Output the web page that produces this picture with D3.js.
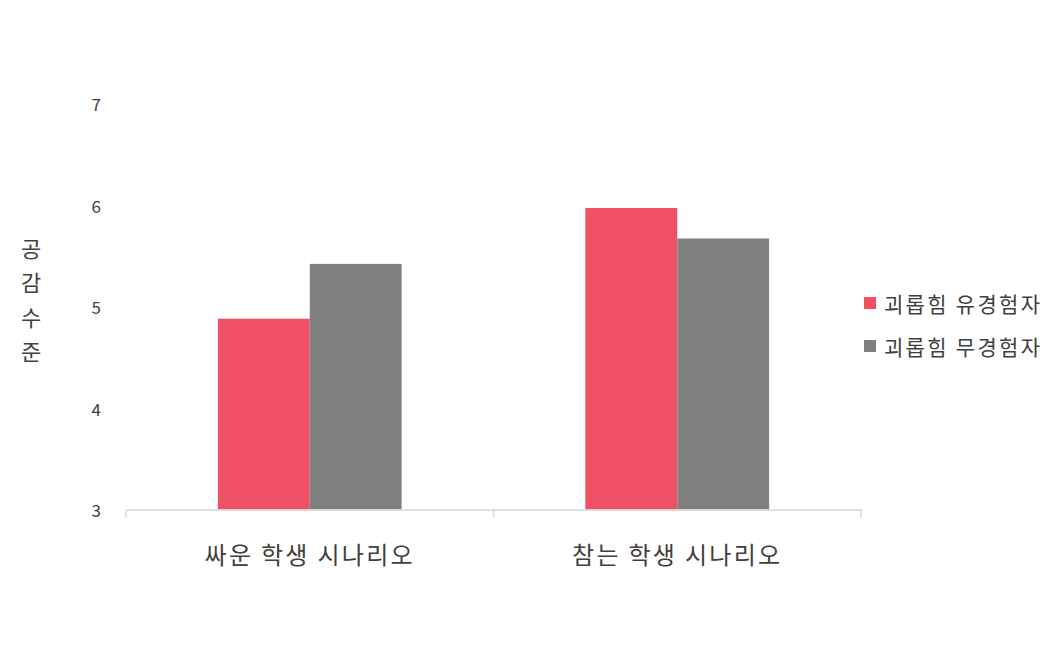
<!DOCTYPE html>
<html>
<head>
<meta charset="utf-8">
<script src="https://cdn.jsdelivr.net/npm/d3@7"></script>
<style>
  body { margin: 0; background: #fff; }
  svg text { font-family: "Noto Sans CJK KR", "Noto Sans", sans-serif; }
</style>
</head>
<body>
<div id="chart"></div>
<script>
// data
const categories = ['싸운 학생 시나리오', '참는 학생 시나리오'];
const seriesNames = ['괴롭힘 유경험자', '괴롭힘 무경험자'];
const experienced = [4.88, 5.97];
const notExperienced = [5.42, 5.67];
const yTicks = [3, 4, 5, 6, 7];
const yTitle = ['공', '감', '수', '준'];

const colors = ['#EF5064', '#808080'];
const textColor = '#404040';

const width = 1061, height = 651;
const plot = { left: 126, right: 861, top: 103.5, bottom: 509.5 };

const svg = d3.select('#chart').append('svg')
  .attr('width', width)
  .attr('height', height);

const rows = categories.map((c, i) => ({ cat: c, values: [experienced[i], notExperienced[i]] }));

const x0 = d3.scaleBand().domain(categories).range([plot.left, plot.right]).padding(0);
const x1 = d3.scaleBand().domain(seriesNames)
  .range([x0.bandwidth() * 0.25, x0.bandwidth() * 0.75]).padding(0);
const y = d3.scaleLinear().domain([3, 7]).range([plot.bottom, plot.top]);

// bars
const groups = svg.selectAll('.group')
  .data(rows)
  .enter()
  .append('g')
  .attr('class', 'group')
  .attr('transform', d => `translate(${x0(d.cat)},0)`);

groups.selectAll('rect')
  .data(d => d.values.map((v, i) => ({ name: seriesNames[i], value: v, i })))
  .enter()
  .append('rect')
  .attr('x', d => x1(d.name))
  .attr('width', x1.bandwidth())
  .attr('y', d => y(d.value))
  .attr('height', d => y(3) - y(d.value))
  .attr('fill', d => colors[d.i]);

// y tick labels
svg.selectAll('.ytick')
  .data(yTicks)
  .enter()
  .append('text')
  .attr('class', 'ytick')
  .attr('x', 101)
  .attr('y', d => y(d))
  .attr('text-anchor', 'end')
  .attr('dominant-baseline', 'central')
  .attr('font-size', 17)
  .attr('fill', textColor)
  .text(d => d);

// x axis
const xAxis = d3.axisBottom(x0).tickSize(0).tickFormat('');
const gx = svg.append('g').attr('transform', `translate(0,${plot.bottom})`).call(xAxis);
gx.select('.domain').attr('stroke', '#d9d9d9').attr('stroke-width', 1.5);

// category boundary ticks
const boundaries = [plot.left, ...categories.map(c => x0(c) + x0.bandwidth())];
svg.selectAll('.xtick')
  .data(boundaries)
  .enter()
  .append('line')
  .attr('x1', d => d).attr('x2', d => d)
  .attr('y1', plot.bottom).attr('y2', plot.bottom + 8)
  .attr('stroke', '#d9d9d9')
  .attr('stroke-width', 1.5);

// category labels
svg.selectAll('.xlabel')
  .data(categories)
  .enter()
  .append('text')
  .attr('x', d => x0(d) + x0.bandwidth() / 2)
  .attr('y', 553)
  .attr('text-anchor', 'middle')
  .attr('dominant-baseline', 'central')
  .attr('font-size', 24)
  .attr('letter-spacing', 2.3)
  .attr('fill', textColor)
  .text(d => d);

// y title (stacked)
svg.selectAll('.ytitle')
  .data(yTitle)
  .enter()
  .append('text')
  .attr('x', 31)
  .attr('y', (d, i) => 247 + i * 34.3)
  .attr('text-anchor', 'middle')
  .attr('dominant-baseline', 'central')
  .attr('font-size', 22)
  .attr('fill', textColor)
  .text(d => d);

// legend
const legend = svg.selectAll('.legend')
  .data(seriesNames)
  .enter()
  .append('g')
  .attr('transform', (d, i) => `translate(864,${303 + i * 43})`);

legend.append('rect')
  .attr('x', 0).attr('y', -6)
  .attr('width', 12).attr('height', 12)
  .attr('fill', (d, i) => colors[i]);

legend.append('text')
  .attr('x', 20)
  .attr('y', 0)
  .attr('dominant-baseline', 'central')
  .attr('font-size', 21)
  .attr('letter-spacing', 2.3)
  .attr('fill', textColor)
  .text(d => d);
</script>
</body>
</html>
